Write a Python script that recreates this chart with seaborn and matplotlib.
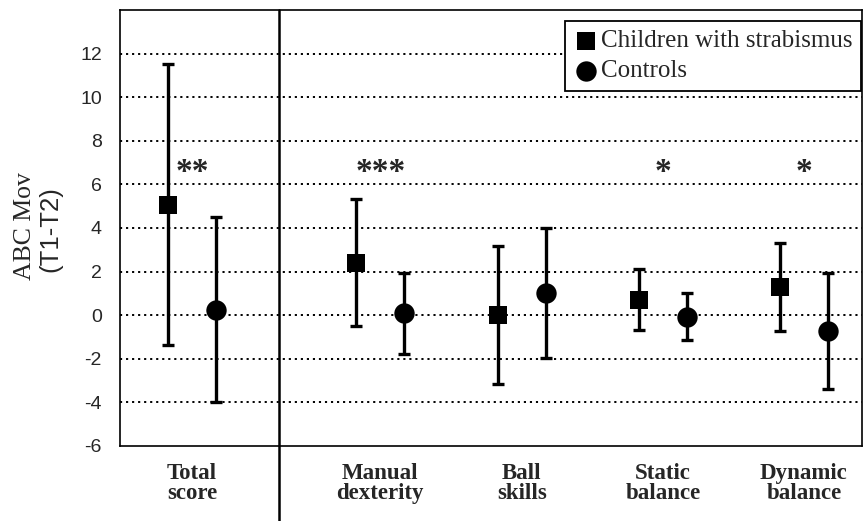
import numpy as np
import pandas as pd
import matplotlib
matplotlib.use("Agg")
import matplotlib.pyplot as plt
import seaborn as sns

# data (mean and SD of T1-T2 change)
categories = ["Total\nscore", "Manual\ndexterity", "Ball\nskills", "Static\nbalance", "Dynamic\nbalance"]
strab_mean = [5.06, 2.41, 0.0, 0.72, 1.30]
strab_sd = [6.44, 2.90, 3.17, 1.38, 2.02]
ctrl_mean = [0.26, 0.08, 1.02, -0.08, -0.72]
ctrl_sd = [4.26, 1.87, 2.97, 1.08, 2.65]
stars = ["**", "***", "", "*", "*"]
groups = ["Children with strabismus", "Controls"]
yticks = [-6, -4, -2, 0, 2, 4, 6, 8, 10, 12, 14]

# layout: first category stands apart behind a divider
centers = np.array([0.0, 1.335, 2.34, 3.34, 4.34])
offset = 0.17

df = pd.concat([
    pd.DataFrame({"cat": categories, "x": centers - offset, "mean": strab_mean, "sd": strab_sd, "group": groups[0]}),
    pd.DataFrame({"cat": categories, "x": centers + offset, "mean": ctrl_mean, "sd": ctrl_sd, "group": groups[1]}),
])

sns.set_style("white")
plt.rcParams["font.family"] = ["Liberation Sans", "DejaVu Sans"]

fig = plt.figure(figsize=(8.64, 5.21), dpi=100)
ax = fig.add_axes([120 / 864, 1 - 446 / 521, 742 / 864, 436 / 521])

for y in yticks[1:-1]:
    ax.axhline(y, color="black", lw=1.4, ls=(0, (1.1, 2.0)), zorder=0)

for g, marker, size in zip(groups, ["s", "o"], [175, 215]):
    sub = df[df["group"] == g]
    ax.errorbar(sub["x"], sub["mean"], yerr=sub["sd"], fmt="none", ecolor="black",
                elinewidth=2.4, capsize=4, capthick=2.4, zorder=2)
    sns.scatterplot(data=sub, x="x", y="mean", marker=marker, s=size, color="black",
                    edgecolor="black", linewidth=0, label=g, ax=ax, zorder=3)

for xc, st in zip(centers, stars):
    if st:
        ax.text(xc, 6.55, st, ha="center", va="center", fontsize=24, fontweight="bold",
                family="Liberation Serif")

# divider between total score and subscales
xd = 0.617
ax.plot([xd, xd], [14, -9.7], color="black", lw=1.8, clip_on=False, zorder=4)

ax.set_xlim(-0.511, 4.752)
ax.set_ylim(-6, 14)
ax.set_yticks(yticks)
ax.set_yticklabels([str(t) if t < 14 else "" for t in yticks], fontsize=14)
ax.set_xticks(centers)
ax.set_xticklabels(categories, fontsize=16.5, fontweight="bold", family="Liberation Serif",
                   linespacing=0.95)
ax.tick_params(axis="y", direction="out", length=6, width=1.2, color="black", pad=7)
ax.tick_params(axis="x", length=0, pad=12)
ax.set_xlabel("")
ax.set_ylabel("")
for sp in ax.spines.values():
    sp.set_visible(True)
    sp.set_color("black")
    sp.set_linewidth(1.2)

fig.text(25 / 864, 1 - 226 / 521, "ABC Mov", rotation=90, ha="center", va="center",
         fontsize=18.5, family="Liberation Serif")
fig.text(50 / 864, 1 - 229 / 521, "(T1-T2)", rotation=90, ha="center", va="center",
         fontsize=18.5, family="Liberation Sans")

leg = ax.legend(loc="upper right", bbox_to_anchor=(0.999, 0.975), borderaxespad=0,
                frameon=True, fancybox=False, handletextpad=0.1, handlelength=1.0,
                labelspacing=0.3, borderpad=0.35, markerscale=1.0,
                prop={"family": "Liberation Serif", "size": 18})
leg.get_frame().set_edgecolor("black")
leg.get_frame().set_linewidth(1.3)
leg.get_frame().set_alpha(1)

fig.savefig("out.png", dpi=100)
